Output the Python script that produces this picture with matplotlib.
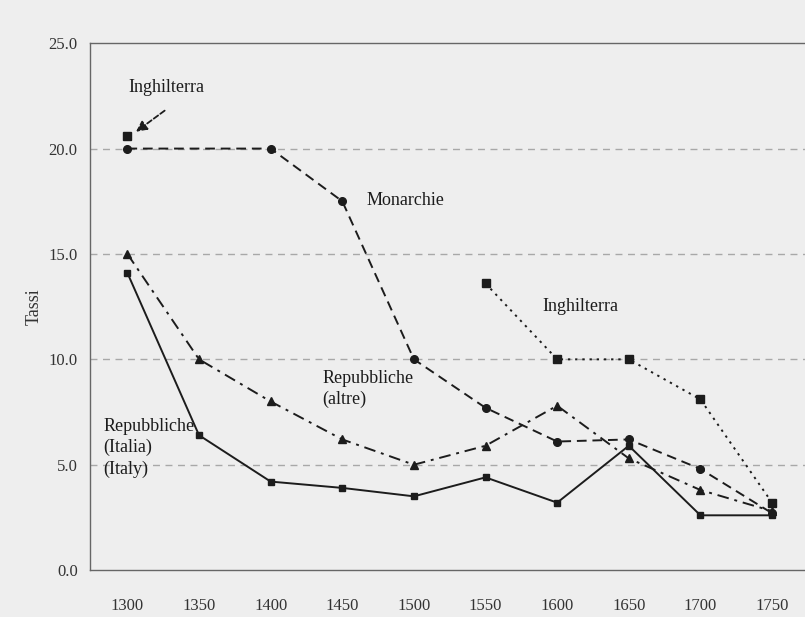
import matplotlib.pyplot as plt
import numpy as np

#----------------------------------------------------------------
# data (interest rates, %)
years = [1300, 1350, 1400, 1450, 1500, 1550, 1600, 1650, 1700, 1750]

monarchie_years = [1300, 1400, 1450, 1500, 1550, 1600, 1650, 1700, 1750]
monarchie = [20.0, 20.0, 17.5, 10.0, 7.7, 6.1, 6.2, 4.8, 2.7]

rep_italia = [14.1, 6.4, 4.2, 3.9, 3.5, 4.4, 3.2, 5.9, 2.6, 2.6]

rep_altre = [15.0, 10.0, 8.0, 6.2, 5.0, 5.9, 7.8, 5.3, 3.8, 2.8]

inghilterra_years = [1300, 1550, 1600, 1650, 1700, 1750]
inghilterra = [20.6, 13.6, 10.0, 10.0, 8.1, 3.2]

yticks = [0, 5, 10, 15, 20, 25]
ytick_labels = ["0.0", "5.0", "10.0", "15.0", "20.0", "25.0"]

#----------------------------------------------------------------
plt.rcParams['font.family'] = ['Liberation Serif', 'DejaVu Serif']

bg = '#eeeeee'
fig = plt.figure(figsize=(8.05, 6.17), dpi=100, facecolor=bg)
ax = fig.add_axes([0.112, 0.076, 0.888, 0.854])
ax.set_facecolor(bg)

# horizontal dashed reference lines
for y in yticks[1:-1]:
	ax.axhline(y, color='#a8a8a8', lw=1.0, ls=(0, (5, 4)), zorder=1)

ink = '#1c1c1c'
ax.plot(years, rep_italia, color=ink, lw=1.4, ls='-',
	marker='s', ms=5, zorder=3)
ax.plot(years, rep_altre, color=ink, lw=1.4, ls=(0, (6, 3, 1.5, 3)),
	marker='^', ms=6, zorder=3)
ax.plot(monarchie_years, monarchie, color=ink, lw=1.4, ls=(0, (5, 3)),
	marker='o', ms=5.5, zorder=3)
ax.plot(inghilterra_years[1:], inghilterra[1:], color=ink, lw=1.4, ls=(0, (1.2, 2.5)),
	marker='s', ms=6, zorder=3)
ax.plot(inghilterra_years[:1], inghilterra[:1], color=ink, ls='none',
	marker='s', ms=6, zorder=3)

#----------------------------------------------------------------
fs = 13
ax.text(1301, 22.9, "Inghilterra", fontsize=fs, va='center', ha='left', color=ink)
ax.annotate("", xy=(1306, 20.8), xytext=(1326, 21.8),
	arrowprops=dict(arrowstyle='-|>', color=ink, lw=1.3, ls=(0, (3, 1.5)),
		shrinkA=0, shrinkB=0, mutation_scale=16))
ax.text(1467, 17.55, "Monarchie", fontsize=fs, va='center', ha='left', color=ink)
ax.text(1590, 12.5, "Inghilterra", fontsize=fs, va='center', ha='left', color=ink)
ax.text(1436, 8.6, "Repubbliche\n(altre)", fontsize=fs, va='center', ha='left',
	color=ink, linespacing=1.3)
ax.text(1283, 5.8, "Repubbliche\n(Italia)\n(Italy)", fontsize=fs, va='center',
	ha='left', color=ink, linespacing=1.3)

#----------------------------------------------------------------
ax.set_xlim(1274, 1773)
ax.set_ylim(0, 25)
ax.set_xticks(years)
ax.set_xticklabels([str(y) for y in years])
ax.set_yticks(yticks)
ax.set_yticklabels(ytick_labels)
ax.tick_params(length=0, labelsize=12, colors='#333333')
ax.tick_params(axis='x', pad=20)
ax.tick_params(axis='y', pad=9)
ax.set_ylabel("Tassi", fontsize=13, color='#333333', labelpad=4)

for s in ['left', 'top', 'bottom']:
	ax.spines[s].set_color('#666666')
	ax.spines[s].set_linewidth(1.0)
ax.spines['right'].set_visible(False)

fig.savefig("out.png", dpi=100, facecolor=bg)
